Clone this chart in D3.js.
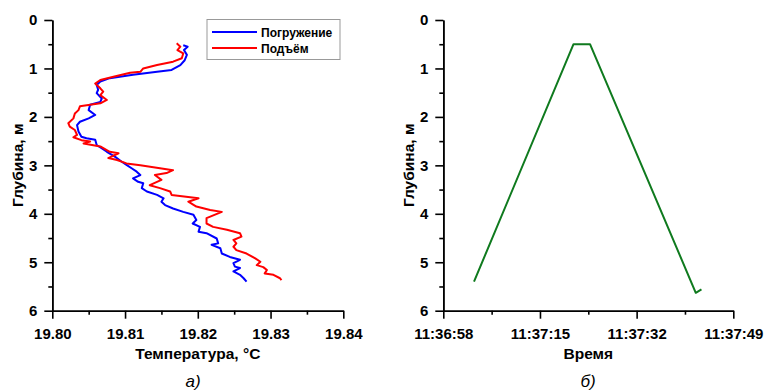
<!DOCTYPE html>
<html>
<head>
<meta charset="utf-8">
<script src="https://cdn.jsdelivr.net/npm/d3@7"></script>
<style>
body { margin: 0; background: #fff; }
svg { font-family: "Liberation Sans", Arial, sans-serif; }
.axis path, .axis line { stroke: #000; stroke-width: 1.6; }
.axis text { font-size: 15px; font-weight: bold; fill: #000; }
.title { font-size: 15.5px; font-weight: bold; }
.caption { font-size: 17px; font-style: italic; }
</style>
</head>
<body>
<svg width="766" height="392"></svg>
<script>
// descent (Погружение): depth, m / temperature, °C
var descentDepth = [0.52, 0.55, 0.62, 0.72, 0.83, 0.93, 1.03, 1.07, 1.13, 1.20, 1.27, 1.34, 1.44, 1.51, 1.62, 1.69,
    1.75, 1.86, 1.96, 2.03, 2.10, 2.17, 2.30, 2.41, 2.44, 2.47, 2.58, 2.72, 2.82, 2.92, 2.99, 3.06, 3.13, 3.20,
    3.27, 3.34, 3.37, 3.47, 3.54, 3.61, 3.68, 3.75, 3.82, 3.89, 3.96, 4.02, 4.13, 4.20, 4.27, 4.37, 4.40, 4.51,
    4.61, 4.64, 4.71, 4.82, 4.89, 4.95, 5.02, 5.09, 5.12, 5.19, 5.26, 5.33, 5.40];
var descentTemp = [19.8180, 19.8186, 19.8181, 19.8185, 19.8182, 19.8176, 19.8164, 19.8144, 19.8111, 19.8079, 19.8066,
    19.8061, 19.8063, 19.8061, 19.8068, 19.8066, 19.8052, 19.8050, 19.8059, 19.8050, 19.8038, 19.8034, 19.8036,
    19.8040, 19.8047, 19.8059, 19.8061, 19.8075, 19.8086, 19.8095, 19.8102, 19.8109, 19.8116, 19.8121, 19.8111,
    19.8118, 19.8125, 19.8123, 19.8130, 19.8144, 19.8153, 19.8150, 19.8155, 19.8166, 19.8180, 19.8194, 19.8198,
    19.8193, 19.8203, 19.8201, 19.8212, 19.8226, 19.8228, 19.8219, 19.8231, 19.8233, 19.8244, 19.8258, 19.8249,
    19.8251, 19.8258, 19.8249, 19.8258, 19.8263, 19.8267];

// ascent (Подъём)
var ascentDepth = [0.48, 0.55, 0.62, 0.69, 0.79, 0.86, 0.93, 1.00, 1.07, 1.09, 1.17, 1.24, 1.31, 1.41, 1.48, 1.55,
    1.65, 1.72, 1.78, 1.86, 1.93, 2.03, 2.13, 2.20, 2.27, 2.37, 2.42, 2.48, 2.51, 2.55, 2.61, 2.72, 2.75, 2.85,
    2.89, 2.96, 3.00, 3.06, 3.10, 3.16, 3.20, 3.30, 3.41, 3.47, 3.54, 3.61, 3.68, 3.75, 3.85, 3.92, 3.96, 4.09,
    4.20, 4.27, 4.33, 4.40, 4.47, 4.54, 4.61, 4.68, 4.75, 4.82, 4.92, 4.99, 5.06, 5.10, 5.16, 5.23, 5.26, 5.33, 5.37];
var ascentTemp = [19.8171, 19.8176, 19.8172, 19.8180, 19.8178, 19.8166, 19.8144, 19.8125, 19.8121, 19.8107, 19.8084,
    19.8066, 19.8059, 19.8066, 19.8070, 19.8066, 19.8075, 19.8066, 19.8038, 19.8036, 19.8031, 19.8029, 19.8022,
    19.8024, 19.8031, 19.8034, 19.8029, 19.8040, 19.8052, 19.8043, 19.8066, 19.8079, 19.8091, 19.8077, 19.8089,
    19.8102, 19.8121, 19.8148, 19.8166, 19.8157, 19.8141, 19.8150, 19.8134, 19.8148, 19.8162, 19.8164, 19.8201,
    19.8187, 19.8198, 19.8217, 19.8233, 19.8212, 19.8212, 19.8221, 19.8240, 19.8258, 19.8260, 19.8249, 19.8253,
    19.8249, 19.8253, 19.8267, 19.8279, 19.8286, 19.8281, 19.8290, 19.8295, 19.8292, 19.8304, 19.8313, 19.8315];

// depth vs time
var timePoints = ["11:37:03.400", "11:37:20.900", "11:37:23.800", "11:37:42.400", "11:37:43.400"];
var timeDepth = [5.40, 0.50, 0.50, 5.63, 5.56];

var tempTicks = [19.80, 19.81, 19.82, 19.83, 19.84];
var depthTicks = [0, 1, 2, 3, 4, 5, 6];
var timeTicks = ["11:36:58", "11:37:15", "11:37:32", "11:37:49"];

var seriesNames = ["Погружение", "Подъём"];
var seriesColors = ["#0000ff", "#ff0000"];

var svg = d3.select("svg");
var parseT = d3.timeParse("%H:%M:%S.%L"),
    parseTick = d3.timeParse("%H:%M:%S"),
    fmtTick = d3.timeFormat("%H:%M:%S");

var yTop = 20, yBottom = 310.7;

function drawDepthAxis(g, y) {
    var minor = d3.range(0.5, 6, 1);
    g.append("g").attr("class", "axis")
        .call(d3.axisLeft(y).tickValues(minor).tickSize(4).tickSizeOuter(0).tickFormat(""));
    g.append("g").attr("class", "axis")
        .call(d3.axisLeft(y).tickValues(depthTicks).tickSize(8).tickSizeOuter(0).tickPadding(7).tickFormat(d3.format("d")));
}

// ---- a) temperature profile
var gA = svg.append("g").attr("transform", "translate(52.3,0)");
var xA = d3.scaleLinear().domain([19.80, 19.84]).range([0, 291]);
var yA = d3.scaleLinear().domain([0, 6]).range([yTop, yBottom]);

var lineA = d3.line().x(function(d) { return xA(d[1]); }).y(function(d) { return yA(d[0]); });

[d3.zip(descentDepth, descentTemp), d3.zip(ascentDepth, ascentTemp)].forEach(function(s, i) {
    gA.append("path").datum(s)
        .attr("fill", "none").attr("stroke", seriesColors[i]).attr("stroke-width", 2)
        .attr("stroke-linejoin", "round")
        .attr("d", lineA);
});

gA.append("g").attr("class", "axis").attr("transform", "translate(0," + yBottom + ")")
    .call(d3.axisBottom(xA).tickValues(d3.range(0, 4).map(function(i) { return 19.805 + i * 0.01; }))
        .tickSize(4).tickSizeOuter(0).tickFormat(""));
gA.append("g").attr("class", "axis").attr("transform", "translate(0," + yBottom + ")")
    .call(d3.axisBottom(xA).tickValues(tempTicks).tickSize(8).tickSizeOuter(0).tickPadding(10).tickFormat(d3.format(".2f")));
drawDepthAxis(gA, yA);

// legend
var leg = svg.append("g").attr("transform", "translate(207,19.5)");
leg.append("rect").attr("width", 133).attr("height", 40)
    .attr("fill", "#fff").attr("stroke", "#999").attr("stroke-width", 1);
seriesNames.forEach(function(name, i) {
    var ly = 12.5 + i * 16;
    leg.append("line").attr("x1", 5).attr("x2", 50).attr("y1", ly).attr("y2", ly)
        .attr("stroke", seriesColors[i]).attr("stroke-width", 2);
    leg.append("text").attr("x", 54).attr("y", ly + 4.5)
        .attr("font-size", 12).attr("font-weight", "bold").text(name);
});

svg.append("text").attr("class", "title").attr("text-anchor", "middle")
    .attr("x", 52.3 + 145.5).attr("y", 359).text("Температура, °C");
svg.append("text").attr("class", "title").attr("text-anchor", "middle")
    .attr("transform", "translate(23," + (yTop + yBottom) / 2 + ") rotate(-90)").text("Глубина, м");
svg.append("text").attr("class", "caption").attr("text-anchor", "middle")
    .attr("x", 193).attr("y", 387).text("а)");

// ---- б) depth vs time
var gB = svg.append("g").attr("transform", "translate(443.3,0)");
var t0 = parseTick(timeTicks[0]), t1 = parseTick(timeTicks[timeTicks.length - 1]);
var xB = d3.scaleTime().domain([t0, t1]).range([0, 290]);
var yB = d3.scaleLinear().domain([0, 6]).range([yTop, yBottom]);

var lineB = d3.line().x(function(d) { return xB(parseT(d[0])); }).y(function(d) { return yB(d[1]); });
gB.append("path").datum(d3.zip(timePoints, timeDepth))
    .attr("fill", "none").attr("stroke", "#0f7a1e").attr("stroke-width", 2)
    .attr("stroke-linejoin", "round")
    .attr("d", lineB);

var minorTimes = d3.range(0, 3).map(function(i) { return new Date(+t0 + (8.5 + 17 * i) * 1000); });
gB.append("g").attr("class", "axis").attr("transform", "translate(0," + yBottom + ")")
    .call(d3.axisBottom(xB).tickValues(minorTimes).tickSize(4).tickSizeOuter(0).tickFormat(""));
gB.append("g").attr("class", "axis").attr("transform", "translate(0," + yBottom + ")")
    .call(d3.axisBottom(xB).tickValues(timeTicks.map(parseTick)).tickSize(8).tickSizeOuter(0).tickPadding(10).tickFormat(fmtTick));
drawDepthAxis(gB, yB);

svg.append("text").attr("class", "title").attr("text-anchor", "middle")
    .attr("x", 443.3 + 145).attr("y", 359).text("Время");
svg.append("text").attr("class", "title").attr("text-anchor", "middle")
    .attr("transform", "translate(414," + (yTop + yBottom) / 2 + ") rotate(-90)").text("Глубина, м");
svg.append("text").attr("class", "caption").attr("text-anchor", "middle")
    .attr("x", 588).attr("y", 387).text("б)");
</script>
</body>
</html>
